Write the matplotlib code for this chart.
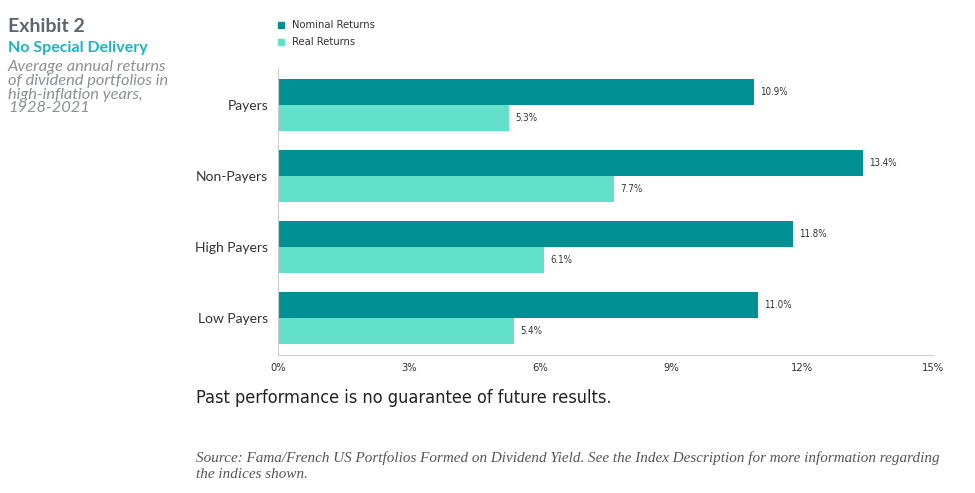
import matplotlib
matplotlib.use("Agg")
import matplotlib.pyplot as plt
import numpy as np
from matplotlib.patches import Rectangle

# data
categories = ["Payers", "Non-Payers", "High Payers", "Low Payers"]
nominal = [10.9, 13.4, 11.8, 11.0]
real = [5.3, 7.7, 6.1, 5.4]
xticks = [0, 3, 6, 9, 12, 15]

c_nom = "#008f93"
c_real = "#62e0c9"
narrow = dict(family="DejaVu Sans", stretch="condensed")

fig = plt.figure(figsize=(9.75, 4.93), dpi=100)
ax = fig.add_axes([278 / 975, 1 - 355 / 493, (933 - 278) / 975, (355 - 68) / 493])

y = np.arange(len(categories))
h = 0.36
ax.barh(y - h / 2, nominal, height=h, color=c_nom)
ax.barh(y + h / 2, real, height=h, color=c_real)

for i in range(len(categories)):
    ax.text(nominal[i] + 0.14, y[i] - h / 2, f"{nominal[i]:.1f}%", va="center", ha="left",
            fontsize=7, color="#333333", **narrow)
    ax.text(real[i] + 0.14, y[i] + h / 2, f"{real[i]:.1f}%", va="center", ha="left",
            fontsize=7, color="#333333", **narrow)

ax.set_ylim(len(categories) - 0.48, -0.52)
ax.set_xlim(0, 15)
ax.set_yticks(y)
ax.set_yticklabels(categories, family="Lato", fontsize=10, color="#333333")
ax.set_xticks(xticks)
ax.set_xticklabels([f"{t}%" for t in xticks], fontsize=8, color="#333333", **narrow)
ax.tick_params(axis="both", length=0)
ax.tick_params(axis="y", pad=7)
ax.tick_params(axis="x", pad=6)
for s in ["top", "right"]:
    ax.spines[s].set_visible(False)
ax.spines["left"].set_color("#cccccc")
ax.spines["bottom"].set_color("#cccccc")

# legend
fig.patches.append(Rectangle((278 / 975, 1 - 28 / 493), 6 / 975, 6 / 493, transform=fig.transFigure,
                             color=c_nom))
fig.patches.append(Rectangle((278 / 975, 1 - 45 / 493), 6 / 975, 6 / 493, transform=fig.transFigure,
                             color=c_real))
fig.text(292 / 975, 1 - 25 / 493, "Nominal Returns", fontsize=8, va="center",
         color="#333333", **narrow)
fig.text(292 / 975, 1 - 42 / 493, "Real Returns", fontsize=8, va="center",
         color="#333333", **narrow)

# header text
fig.text(8 / 975, 1 - 27 / 493, "Exhibit 2", family="Lato", fontsize=14, fontweight="bold",
         color="#5b6670", va="center")
fig.text(8 / 975, 1 - 48 / 493, "No Special Delivery", family="Lato", fontsize=11.5,
         fontweight="bold", color="#1db4bf", va="center")
fig.text(8 / 975, 1 - 60 / 493, "Average annual returns\nof dividend portfolios in\nhigh-inflation years,\n1928-2021",
         family="Lato", fontsize=11.8, style="italic", color="#8c9196", va="top", linespacing=0.98)

fig.text(196 / 975, 1 - 398 / 493, "Past performance is no guarantee of future results.",
         fontsize=13, color="#222222", va="center", **narrow)
fig.text(196 / 975, 1 - 466 / 493,
         "Source: Fama/French US Portfolios Formed on Dividend Yield. See the Index Description for more information regarding\nthe indices shown.",
         family="Liberation Serif", style="italic", fontsize=10.9, color="#555555", va="center",
         linespacing=1.35)

plt.savefig("out.png", dpi=100)
